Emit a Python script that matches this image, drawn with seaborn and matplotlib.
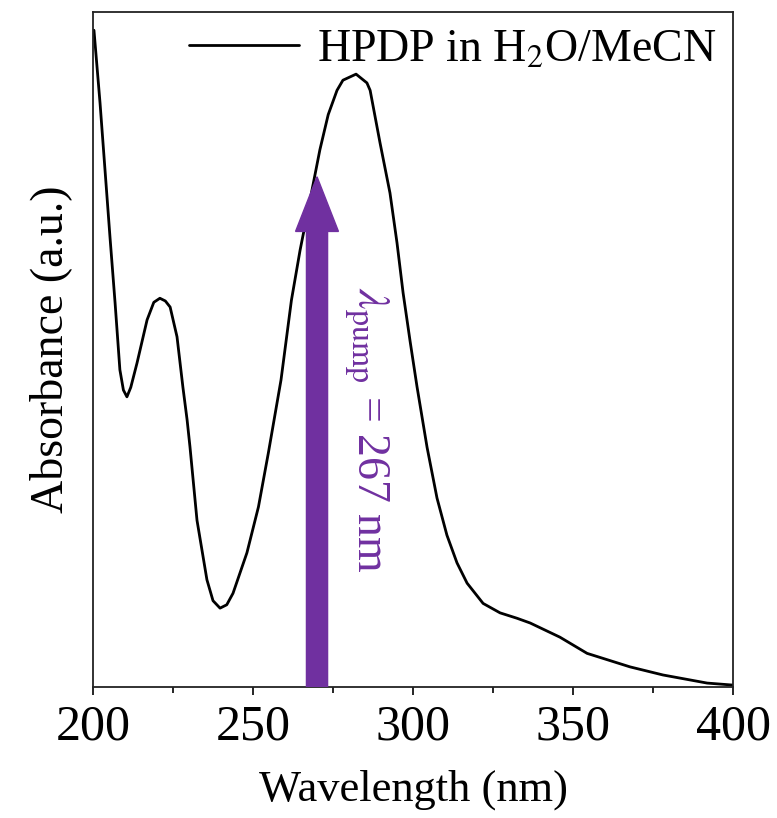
# UV-vis absorbance spectrum of HPDP with the pump wavelength marked
import seaborn as sns
import matplotlib.pyplot as plt
from matplotlib.ticker import MultipleLocator

wavelength = [200.3, 202.2, 203.75, 205.3, 206.9, 208.4, 209.5, 210.6, 211.8, 213.75,
              216.9, 219.0, 220.9, 222.6, 224.1, 226.25, 228.1, 229.4, 230.3, 232.5,
              235.6, 237.5, 239.7, 241.8, 243.75, 248.1, 251.7, 254.8, 258.75, 262.0,
              264.7, 267.8, 270.9, 273.5, 276.25, 278.1, 282.2, 285.6, 286.6, 289.7,
              292.8, 295.0, 296.9, 299.1, 301.25, 304.4, 307.5, 310.6, 313.75, 316.9,
              321.9, 327.2, 332.5, 336.6, 345.9, 354.4, 367.8, 378.1, 391.9, 400.0]
absorbance = [0.973, 0.865, 0.766, 0.667, 0.569, 0.470, 0.440, 0.430, 0.444, 0.480,
              0.544, 0.570, 0.576, 0.572, 0.563, 0.519, 0.444, 0.396, 0.356, 0.247,
              0.159, 0.128, 0.117, 0.122, 0.139, 0.199, 0.267, 0.347, 0.455, 0.573,
              0.647, 0.721, 0.796, 0.848, 0.884, 0.899, 0.908, 0.895, 0.884, 0.806,
              0.732, 0.658, 0.584, 0.512, 0.445, 0.355, 0.280, 0.225, 0.184, 0.154,
              0.124, 0.110, 0.102, 0.095, 0.074, 0.050, 0.030, 0.018, 0.006, 0.003]

pump_label = r'$\lambda_{\rm pump}$ = 267 nm'
arrow_x = 270
arrow_top = 0.756
purple = '#7030A0'

sns.set_style('ticks')
plt.rcParams['font.family'] = ['Liberation Serif', 'DejaVu Serif']
plt.rcParams['mathtext.fontset'] = 'stix'
plt.rcParams['text.color'] = 'black'
plt.rcParams['axes.labelcolor'] = 'black'
plt.rcParams['xtick.color'] = 'black'

fig = plt.figure(figsize=(7.77, 8.18), dpi=100)
ax = fig.add_axes([0.1197, 0.160, 0.8237, 0.8253])

sns.lineplot(x=wavelength, y=absorbance, color='black', linewidth=2.0,
             label=r'HPDP in H$_2$O/MeCN', sort=False, ax=ax)

ax.arrow(arrow_x, 0, 0, arrow_top, width=6.6, head_width=13.4, head_length=0.081,
         length_includes_head=True, color=purple, zorder=3)
ax.text(285.5, 0.381, pump_label, rotation=-90, ha='center', va='center',
        color=purple, fontsize=33)

ax.set_xlim(200, 400)
ax.set_ylim(0, 1)
ax.xaxis.set_major_locator(MultipleLocator(50))
ax.xaxis.set_minor_locator(MultipleLocator(25))
ax.tick_params(axis='x', which='major', direction='out', length=6, width=1.2,
               labelsize=36, pad=6)
ax.tick_params(axis='x', which='minor', direction='out', length=4, width=1.2)
ax.set_yticks([])
for s in ax.spines.values():
    s.set_visible(True)
    s.set_linewidth(1.3)
    s.set_color('#222222')

ax.set_xlabel('Wavelength (nm)', fontsize=32, labelpad=14)
ax.set_ylabel('Absorbance (a.u.)', fontsize=33, labelpad=15)

ax.legend(loc='upper right', frameon=False, fontsize=33, handlelength=2.4,
          handletextpad=0.4, borderaxespad=0.15, borderpad=0.2)

fig.savefig('out.png', dpi=100)
